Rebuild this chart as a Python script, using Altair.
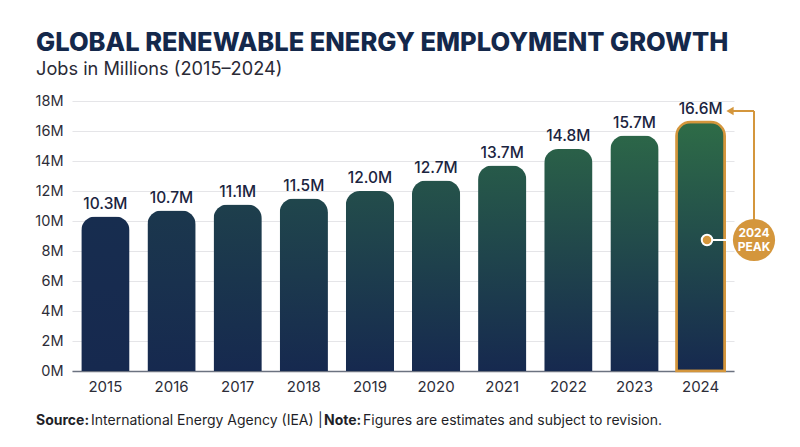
import altair as alt
import pandas as pd

years = ["2015", "2016", "2017", "2018", "2019", "2020", "2021", "2022", "2023", "2024"]
jobs = [10.3, 10.7, 11.1, 11.5, 12.0, 12.7, 13.7, 14.8, 15.7, 16.6]
y_ticks = [0, 2, 4, 6, 8, 10, 12, 14, 16, 18]

title_text = "GLOBAL RENEWABLE ENERGY EMPLOYMENT GROWTH"
subtitle_text = "Jobs in Millions (2015–2024)"
peak_lines = ["2024", "PEAK"]

df = pd.DataFrame({"year": years, "jobs": jobs})

NAVY = "#16294f"
GREEN = "#2e6c47"
ORANGE = "#d4963c"
FONT = "Inter"


def mix(c1, c2, t):
    a = [int(c1[i:i + 2], 16) for i in (1, 3, 5)]
    b = [int(c2[i:i + 2], 16) for i in (1, 3, 5)]
    return "#" + "".join(f"{round(x + (y - x) * t):02x}" for x, y in zip(a, b))


x_enc = alt.X(
    "year:N",
    scale=alt.Scale(domain=years, paddingInner=0.27, paddingOuter=0.14),
    axis=alt.Axis(title=None, labelAngle=0, ticks=False, domainColor="#6b7280",
                  domainWidth=1.5, labelPadding=8, labelFontSize=15,
                  labelColor="#2d2d38", labelFont=FONT, grid=False),
)
y_enc = alt.Y(
    "jobs:Q",
    scale=alt.Scale(domain=[0, 18], nice=False),
    axis=alt.Axis(title=None, values=y_ticks, labelExpr="datum.value + 'M'",
                  domain=False, ticks=False, gridColor="#e5e5e8", gridWidth=1,
                  labelPadding=9, labelFontSize=14.5, labelColor="#2d2d38",
                  labelFont=FONT),
)

base = alt.Chart(df).encode(x=x_enc, y=y_enc)

layers = []
n = len(years)
for i, yr in enumerate(years):
    t = (i / (n - 1)) ** 0.85
    top = mix(NAVY, GREEN, 0.06 + 0.94 * t)
    midc = mix(NAVY, top, 0.55)
    grad = alt.Gradient(
        gradient="linear", x1=0, y1=0, x2=0, y2=1,
        stops=[alt.GradientStop(offset=0, color=top),
               alt.GradientStop(offset=0.45, color=midc),
               alt.GradientStop(offset=1, color=NAVY)],
    )
    kw = dict(color=grad, cornerRadiusTopLeft=14, cornerRadiusTopRight=14)
    if i == n - 1:
        kw.update(stroke=ORANGE, strokeWidth=2.5)
    layers.append(base.transform_filter(alt.datum.year == yr).mark_bar(**kw))

labels = base.transform_calculate(
    lab="format(datum.jobs, '.1f') + 'M'"
).mark_text(baseline="bottom", dy=-5, fontSize=15.5, color="#1b2440",
            font=FONT, fontWeight=500).encode(text="lab:N")
layers.append(labels)


def one(**d):
    return alt.Chart(pd.DataFrame({k: [v] for k, v in d.items()} or {"a": [0]}))


# Title & subtitle
layers.append(one(t=title_text).mark_text(
    align="left", baseline="alphabetic", fontSize=25.5, fontWeight=800,
    font=FONT, color="#14284b").encode(x=alt.value(-36), y=alt.value(-50), text="t:N"))
layers.append(one(t=subtitle_text).mark_text(
    align="left", baseline="alphabetic", fontSize=18.2, fontWeight=400,
    font=FONT, color="#2a2a36").encode(x=alt.value(-36), y=alt.value(-26), text="t:N"))

# Footer
foot = [("Source:", -36, 700), ("International Energy Agency (IEA)", 19, 400),
        ("|", 246, 400), ("Note:", 252, 700),
        ("Figures are estimates and subject to revision.", 291, 400)]
for txt, xx, w in foot:
    layers.append(one(t=txt).mark_text(
        align="left", baseline="alphabetic", fontSize=14, fontWeight=w,
        font=FONT, color="#1f1f28").encode(x=alt.value(xx), y=alt.value(324), text="t:N"))

# Peak annotation
layers.append(one(a=0).mark_rule(color=ORANGE, strokeWidth=2).encode(
    x=alt.value(658), x2=alt.value(682), y=alt.value(10)))
layers.append(one(a=0).mark_rule(color=ORANGE, strokeWidth=2).encode(
    x=alt.value(682), y=alt.value(10), y2=alt.value(125)))
layers.append(one(a=0).mark_point(shape="triangle-left", filled=True, opacity=1,
                                  color=ORANGE, size=70).encode(
    x=alt.value(658), y=alt.value(10)))
layers.append(one(a=0).mark_rule(color="#ffffff", strokeWidth=2).encode(
    x=alt.value(636), x2=alt.value(664), y=alt.value(139)))
layers.append(one(a=0).mark_point(shape="circle", filled=True, opacity=1,
                                  color=ORANGE, size=1780).encode(
    x=alt.value(682), y=alt.value(139)))
layers.append(one(a=0).mark_point(shape="circle", filled=True, opacity=1,
                                  fill=ORANGE, stroke="#ffffff", strokeWidth=2,
                                  size=110).encode(
    x=alt.value(635), y=alt.value(139)))
for j, line in enumerate(peak_lines):
    layers.append(one(t=line).mark_text(
        align="center", baseline="middle", fontSize=12, fontWeight=700,
        font=FONT, color="#ffffff").encode(
        x=alt.value(682), y=alt.value(132 + 14 * j), text="t:N"))

chart = alt.layer(*layers).properties(
    width=662, height=270,
    autosize=alt.AutoSizeParams(type="none"),
    padding={"left": 64, "top": 93, "right": 58, "bottom": 68},
    background="#ffffff",
).configure_view(stroke=None)

chart.save("out.html", embed_options={"renderer": "svg", "actions": False})
